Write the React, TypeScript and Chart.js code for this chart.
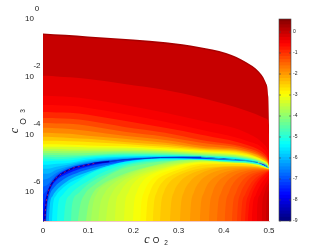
import React, { useEffect, useRef } from "react";
import { Chart, registerables } from "chart.js";

Chart.register(...registerables);

// x positions shared by the contours above the ridge
const upperX = [0, 0.01, 0.03, 0.06, 0.1, 0.18, 0.27, 0.35, 0.45, 0.49, 0.497, 0.5];
// contour level (log10 of the quantity) and its height, in decades below 1
const upperLevels = [-7.5, -7.2, -6.9, -6.6, -6.3, -6.0, -5.7, -5.4, -5.1, -4.8, -4.5, -4.2, -3.9, -3.6, -3.3, -3.0, -2.7, -2.4, -2.1, -1.8, -1.5, -1.2, -0.9, -0.6, -0.45, -0.3, -0.11];
const upperDecades = [
  [6.75, 6.12, 5.5, 5.21, 5.05, 4.88, 4.81, 4.79, 4.9, 5.03, 5.09, 5.17],
  [6.4, 6.06, 5.48, 5.19, 5.03, 4.87, 4.81, 4.79, 4.9, 5.03, 5.09, 5.17],
  [6.09, 5.92, 5.45, 5.17, 5.02, 4.87, 4.81, 4.79, 4.9, 5.03, 5.09, 5.17],
  [5.81, 5.74, 5.4, 5.16, 5.0, 4.86, 4.81, 4.79, 4.9, 5.03, 5.09, 5.17],
  [5.57, 5.54, 5.33, 5.12, 4.98, 4.84, 4.8, 4.79, 4.9, 5.03, 5.09, 5.17],
  [5.36, 5.36, 5.22, 5.09, 4.95, 4.83, 4.79, 4.79, 4.9, 5.03, 5.09, 5.17],
  [5.19, 5.19, 5.12, 5.03, 4.91, 4.81, 4.77, 4.78, 4.9, 5.03, 5.09, 5.17],
  [5.05, 5.05, 5.02, 4.98, 4.86, 4.77, 4.76, 4.78, 4.89, 5.03, 5.09, 5.17],
  [4.93, 4.93, 4.91, 4.9, 4.81, 4.76, 4.74, 4.77, 4.88, 5.03, 5.09, 5.17],
  [4.84, 4.84, 4.86, 4.83, 4.77, 4.72, 4.72, 4.76, 4.86, 5.02, 5.08, 5.16],
  [4.77, 4.77, 4.79, 4.77, 4.74, 4.69, 4.7, 4.74, 4.84, 5.02, 5.08, 5.16],
  [4.71, 4.71, 4.71, 4.72, 4.71, 4.65, 4.67, 4.72, 4.83, 5.0, 5.07, 5.15],
  [4.64, 4.64, 4.64, 4.65, 4.64, 4.62, 4.64, 4.7, 4.81, 4.99, 5.06, 5.14],
  [4.57, 4.57, 4.57, 4.58, 4.58, 4.57, 4.6, 4.67, 4.79, 4.98, 5.05, 5.14],
  [4.5, 4.5, 4.5, 4.52, 4.52, 4.52, 4.57, 4.64, 4.77, 4.97, 5.05, 5.12],
  [4.43, 4.43, 4.43, 4.43, 4.45, 4.46, 4.53, 4.6, 4.74, 4.95, 5.03, 5.12],
  [4.34, 4.34, 4.34, 4.36, 4.38, 4.41, 4.48, 4.57, 4.71, 4.93, 5.02, 5.1],
  [4.22, 4.22, 4.22, 4.24, 4.26, 4.33, 4.43, 4.53, 4.67, 4.91, 5.0, 5.1],
  [4.08, 4.08, 4.1, 4.12, 4.15, 4.26, 4.36, 4.5, 4.64, 4.9, 4.98, 5.09],
  [3.94, 3.94, 3.96, 3.98, 4.05, 4.15, 4.29, 4.46, 4.6, 4.86, 4.97, 5.09],
  [3.77, 3.77, 3.79, 3.81, 3.88, 4.05, 4.19, 4.39, 4.57, 4.83, 4.95, 5.07],
  [3.6, 3.6, 3.62, 3.63, 3.7, 3.91, 4.08, 4.29, 4.52, 4.79, 4.91, 5.05],
  [3.43, 3.43, 3.44, 3.46, 3.53, 3.74, 3.94, 4.19, 4.46, 4.74, 4.88, 5.02],
  [3.22, 3.22, 3.24, 3.25, 3.32, 3.53, 3.77, 4.01, 4.36, 4.67, 4.81, 4.95],
  [2.98, 2.98, 2.99, 3.01, 3.08, 3.29, 3.56, 3.84, 4.22, 4.53, 4.71, 4.88],
  [2.66, 2.66, 2.68, 2.7, 2.77, 2.98, 3.25, 3.53, 3.94, 4.36, 4.53, 4.71],
  [1.97, 1.97, 1.99, 2.02, 2.08, 2.25, 2.46, 2.73, 3.18, 3.43, 3.49, 3.6],
];
// upper edge of the filled domain, with its thin dark rim
const edgeX = [0, 0.05, 0.1, 0.2, 0.272, 0.345, 0.405, 0.449, 0.478, 0.493, 0.4985, 0.5];
const rimLevel = 0.3;
const rimDecades = [0.55, 0.61, 0.66, 0.76, 0.87, 1.02, 1.23, 1.54, 1.89, 2.28, 2.8, 4.01];
const edgeDecades = [0.5, 0.55, 0.61, 0.71, 0.81, 0.97, 1.18, 1.49, 1.83, 2.21, 2.7, 3.67];

// the dark ridge
const ridgeX = [0.004, 0.006, 0.011, 0.018, 0.029, 0.044, 0.066, 0.088, 0.118, 0.147, 0.177, 0.22, 0.26, 0.35, 0.405, 0.447, 0.476, 0.49, 0.5];
const ridgeDecades = [7, 6.49, 6.03, 5.74, 5.51, 5.34, 5.17, 5.09, 4.99, 4.94, 4.88, 4.84, 4.8, 4.785, 4.855, 4.9, 4.97, 5.03, 5.17];

// contours below the ridge
const lowerLevels = [-6.9, -6.3, -5.7, -5.4, -5.1, -4.8, -4.5, -4.2, -3.9, -3.75, -3.6, -3.45, -3.3, -3.15, -3.0, -2.85, -2.7, -2.55, -2.4, -2.25, -2.1, -1.95, -1.8, -1.65, -1.5, -1.35, -1.2, -1.05, -0.9, -0.75, -0.6, -0.45, -0.3, -0.15, 0, 0.15];
const lowerX = [
  [0.004, 0.007, 0.012, 0.02, 0.031, 0.049, 0.082, 0.148, 0.259, 0.409, 0.476, 0.5],
  [0.007, 0.01, 0.015, 0.024, 0.038, 0.055, 0.093, 0.159, 0.259, 0.409, 0.476, 0.5],
  [0.013, 0.015, 0.022, 0.031, 0.046, 0.071, 0.115, 0.17, 0.259, 0.409, 0.476, 0.5],
  [0.02, 0.022, 0.029, 0.04, 0.06, 0.082, 0.126, 0.181, 0.259, 0.409, 0.476, 0.5],
  [0.031, 0.033, 0.042, 0.055, 0.077, 0.108, 0.148, 0.192, 0.259, 0.409, 0.476, 0.5],
  [0.046, 0.049, 0.06, 0.073, 0.1, 0.126, 0.17, 0.215, 0.27, 0.409, 0.476, 0.5],
  [0.062, 0.064, 0.077, 0.093, 0.119, 0.148, 0.188, 0.237, 0.281, 0.409, 0.476, 0.5],
  [0.077, 0.082, 0.093, 0.111, 0.137, 0.17, 0.215, 0.259, 0.303, 0.409, 0.476, 0.5],
  [0.095, 0.1, 0.111, 0.13, 0.159, 0.192, 0.237, 0.281, 0.325, 0.409, 0.476, 0.5],
  [0.106, 0.11, 0.12, 0.14, 0.17, 0.203, 0.248, 0.292, 0.336, 0.409, 0.476, 0.5],
  [0.122, 0.126, 0.137, 0.155, 0.181, 0.215, 0.259, 0.303, 0.347, 0.409, 0.476, 0.5],
  [0.139, 0.143, 0.153, 0.17, 0.195, 0.228, 0.27, 0.315, 0.36, 0.409, 0.476, 0.5],
  [0.159, 0.161, 0.17, 0.186, 0.21, 0.241, 0.281, 0.325, 0.369, 0.409, 0.476, 0.5],
  [0.179, 0.181, 0.189, 0.203, 0.226, 0.256, 0.292, 0.336, 0.409, 0.476, 0.5],
  [0.199, 0.201, 0.208, 0.221, 0.243, 0.27, 0.303, 0.347, 0.409, 0.476, 0.5],
  [0.215, 0.217, 0.224, 0.237, 0.257, 0.285, 0.32, 0.363, 0.417, 0.476, 0.5],
  [0.228, 0.23, 0.237, 0.25, 0.27, 0.299, 0.336, 0.38, 0.425, 0.476, 0.5],
  [0.243, 0.245, 0.252, 0.266, 0.287, 0.315, 0.35, 0.395, 0.436, 0.476, 0.5],
  [0.259, 0.261, 0.268, 0.281, 0.303, 0.33, 0.365, 0.409, 0.447, 0.476, 0.5],
  [0.281, 0.283, 0.29, 0.303, 0.323, 0.35, 0.383, 0.423, 0.46, 0.5],
  [0.303, 0.305, 0.312, 0.325, 0.343, 0.369, 0.4, 0.436, 0.476, 0.5],
  [0.325, 0.327, 0.334, 0.346, 0.364, 0.389, 0.418, 0.455, 0.48, 0.5],
  [0.347, 0.349, 0.356, 0.367, 0.385, 0.409, 0.436, 0.476, 0.5],
  [0.367, 0.369, 0.375, 0.386, 0.403, 0.425, 0.453, 0.48, 0.5],
  [0.385, 0.387, 0.394, 0.405, 0.42, 0.442, 0.469, 0.5],
  [0.402, 0.404, 0.411, 0.422, 0.437, 0.459, 0.48, 0.5],
  [0.418, 0.42, 0.427, 0.438, 0.453, 0.476, 0.5],
  [0.429, 0.431, 0.437, 0.448, 0.462, 0.482, 0.5],
  [0.438, 0.44, 0.447, 0.458, 0.471, 0.487, 0.5],
  [0.447, 0.449, 0.455, 0.465, 0.477, 0.491, 0.5],
  [0.453, 0.456, 0.462, 0.471, 0.482, 0.5],
  [0.462, 0.464, 0.471, 0.48, 0.489, 0.5],
  [0.473, 0.474, 0.48, 0.487, 0.5],
  [0.484, 0.485, 0.489, 0.493, 0.5],
  [0.493, 0.494, 0.496, 0.5],
  [0.498, 0.499, 0.5],
];
const lowerDecades = [
  [7, 6.47, 6.06, 5.78, 5.57, 5.4, 5.19, 4.96, 4.81, 4.88, 4.99, 5.17],
  [7, 6.47, 6.09, 5.85, 5.64, 5.47, 5.24, 5.0, 4.82, 4.89, 5.0, 5.17],
  [7, 6.47, 6.12, 5.92, 5.71, 5.47, 5.22, 5.02, 4.83, 4.9, 5.0, 5.18],
  [7, 6.47, 6.12, 5.92, 5.67, 5.5, 5.19, 4.95, 4.84, 4.9, 5.0, 5.18],
  [7, 6.47, 6.12, 5.88, 5.64, 5.33, 5.12, 4.97, 4.85, 4.91, 5.01, 5.18],
  [7, 6.47, 6.09, 5.88, 5.61, 5.36, 5.09, 4.95, 4.88, 4.92, 5.02, 5.19],
  [7, 6.47, 6.06, 5.81, 5.54, 5.33, 5.07, 4.95, 4.9, 4.94, 5.03, 5.19],
  [7, 6.47, 6.06, 5.78, 5.5, 5.22, 5.05, 4.95, 4.9, 4.95, 5.04, 5.19],
  [7, 6.47, 6.02, 5.74, 5.5, 5.29, 5.1, 4.95, 4.88, 4.96, 5.05, 5.19],
  [7, 6.47, 6.02, 5.72, 5.48, 5.27, 5.08, 4.95, 4.9, 4.97, 5.05, 5.19],
  [7, 6.47, 6.02, 5.71, 5.47, 5.24, 5.07, 4.97, 4.9, 4.98, 5.06, 5.19],
  [7, 6.47, 6.02, 5.69, 5.45, 5.25, 5.08, 4.97, 4.92, 4.98, 5.06, 5.2],
  [7, 6.47, 6.02, 5.67, 5.43, 5.26, 5.09, 4.98, 4.93, 4.99, 5.07, 5.2],
  [7, 6.47, 6.0, 5.64, 5.4, 5.24, 5.08, 4.97, 4.98, 5.07, 5.2],
  [7, 6.47, 5.99, 5.61, 5.36, 5.22, 5.07, 4.97, 4.98, 5.08, 5.2],
  [7, 6.47, 5.99, 5.61, 5.38, 5.22, 5.06, 5.0, 5.0, 5.08, 5.2],
  [7, 6.47, 5.99, 5.61, 5.4, 5.22, 5.05, 5.02, 5.02, 5.09, 5.2],
  [7, 6.47, 5.99, 5.62, 5.4, 5.23, 5.08, 5.03, 5.03, 5.1, 5.2],
  [7, 6.47, 5.99, 5.64, 5.4, 5.24, 5.14, 5.09, 5.09, 5.11, 5.21],
  [7, 6.47, 5.99, 5.64, 5.4, 5.23, 5.14, 5.1, 5.12, 5.21],
  [7, 6.47, 5.99, 5.64, 5.4, 5.22, 5.14, 5.12, 5.14, 5.21],
  [7, 6.47, 6.0, 5.65, 5.41, 5.25, 5.17, 5.15, 5.16, 5.21],
  [7, 6.47, 6.02, 5.67, 5.43, 5.28, 5.19, 5.17, 5.22],
  [7, 6.47, 6.02, 5.67, 5.44, 5.28, 5.21, 5.2, 5.22],
  [7, 6.47, 6.02, 5.67, 5.45, 5.29, 5.22, 5.22],
  [7, 6.47, 6.02, 5.67, 5.44, 5.29, 5.24, 5.23],
  [7, 6.47, 6.02, 5.67, 5.43, 5.29, 5.24],
  [7, 6.47, 6.05, 5.7, 5.46, 5.32, 5.25],
  [7, 6.47, 6.09, 5.74, 5.5, 5.35, 5.26],
  [7, 6.47, 6.09, 5.76, 5.52, 5.35, 5.28],
  [7, 6.47, 6.09, 5.78, 5.54, 5.29],
  [7, 6.47, 6.09, 5.78, 5.57, 5.36],
  [7, 6.47, 6.09, 5.85, 5.5],
  [7, 6.47, 6.09, 5.88, 5.67],
  [7, 6.47, 6.12, 5.92],
  [7, 6.54, 6.19],
];

const xTicks = [0, 0.1, 0.2, 0.3, 0.4, 0.5];
const yTickDecades = [0, 2, 4, 6];
const colorbarTicks = [0, -1, -2, -3, -4, -5, -6, -7, -8, -9];
const colorMin = -9;
const colorMax = 0.62;
const colorSteps = 64;

function jet(v: number): string {
  const raw = (v - colorMin) / (colorMax - colorMin);
  const f = (Math.min(colorSteps - 1, Math.max(0, Math.floor(raw * colorSteps))) + 0.5) / colorSteps;
  const c = (t: number) => Math.round(255 * Math.max(0, Math.min(1, t)));
  const r = c(Math.min(4 * f - 1.5, 4.5 - 4 * f));
  const g = c(Math.min(4 * f - 0.5, 3.5 - 4 * f));
  const b = c(Math.min(4 * f + 0.5, 2.5 - 4 * f));
  return `rgb(${r},${g},${b})`;
}

const pts = (xs: number[], ds: number[]) => xs.map((x, i) => ({ x, y: Math.pow(10, -ds[i]) }));

function area(xs: number[], ds: number[], color: string, fill: string) {
  return { data: pts(xs, ds), fill, backgroundColor: color, borderColor: color, borderWidth: 0, pointRadius: 0, cubicInterpolationMode: "monotone" };
}

function stroke(xs: number[], ds: number[], color: string, width: number, dash: number[] = []) {
  return { data: pts(xs, ds), fill: false, borderColor: color, borderWidth: width, borderDash: dash, pointRadius: 0, cubicInterpolationMode: "monotone" };
}

const paintOrder = [
  area([0, 0.5], [7, 7], jet(-8), "end"),
  ...upperLevels.map((v, i) => area(upperX, upperDecades[i], jet(v), "end")),
  area(edgeX, rimDecades, jet(rimLevel), "end"),
  area(edgeX, edgeDecades, "#ffffff", "end"),
  area(ridgeX, ridgeDecades, jet(-7.6), "start"),
  ...lowerLevels.map((v, i) => area(lowerX[i], lowerDecades[i], jet(v), "start")),
  stroke(ridgeX.slice(0, 10), ridgeDecades.slice(0, 10), "#0000b0", 1.5),
  stroke(ridgeX.slice(9, 14), ridgeDecades.slice(9, 14), "#0040c8", 1),
  stroke(ridgeX.slice(13, 17), ridgeDecades.slice(13, 17), "#18b0c0", 1),
  stroke(ridgeX.slice(16), ridgeDecades.slice(16), "#a0e060", 1),
  stroke(ridgeX.slice(0, 9), ridgeDecades.slice(0, 9), "#b0206a", 0.8, [2, 3]),
];

const axisLabels = {
  id: "axisLabels",
  afterDraw(chart: any) {
    const { ctx, scales } = chart;
    ctx.save();
    ctx.fillStyle = "#222";
    ctx.textAlign = "center";
    ctx.textBaseline = "middle";
    ctx.font = "8px 'Liberation Sans'";
    yTickDecades.forEach((d) => {
      const py = scales.y.getPixelForValue(Math.pow(10, -d));
      ctx.fillText(d === 0 ? "0" : `-${d}`, 37, py - 10.5);
    });
    const parts = [
      ["c", "italic 12px 'Liberation Serif'", 147, 239.5],
      ["O", "8.5px 'Liberation Sans'", 156, 241],
      ["2", "6.5px 'Liberation Sans'", 166, 243],
    ];
    parts.forEach(([t, f, x, y]) => {
      ctx.font = f;
      ctx.fillText(t, x, y);
    });
    const rotated = [
      ["c", "italic 12px 'Liberation Serif'", 15, 130.5],
      ["O", "8.5px 'Liberation Sans'", 23.5, 121.5],
      ["3", "6.5px 'Liberation Sans'", 23.5, 111],
    ];
    rotated.forEach(([t, f, x, y]) => {
      ctx.save();
      ctx.translate(x, y);
      ctx.rotate(-Math.PI / 2);
      ctx.font = f;
      ctx.fillText(t, 0, 0);
      ctx.restore();
    });
    ctx.restore();
  },
};

const colorbarFrame = {
  id: "colorbarFrame",
  afterDatasetsDraw(chart: any) {
    const { ctx, chartArea: a, scales } = chart;
    ctx.save();
    ctx.strokeStyle = "#444";
    ctx.lineWidth = 0.6;
    ctx.strokeRect(a.left, a.top, a.right - a.left, a.bottom - a.top);
    colorbarTicks.forEach((t) => {
      const py = scales.y.getPixelForValue(t);
      ctx.beginPath();
      ctx.moveTo(a.left, py);
      ctx.lineTo(a.left + 2, py);
      ctx.moveTo(a.right - 2, py);
      ctx.lineTo(a.right, py);
      ctx.stroke();
    });
    ctx.restore();
  },
};

export default function App() {
  const mainRef = useRef<HTMLCanvasElement>(null);
  const barRef = useRef<HTMLCanvasElement>(null);

  useEffect(() => {
    const main = new Chart(mainRef.current!, {
      type: "line",
      data: { datasets: [...paintOrder].reverse() as any },
      plugins: [axisLabels],
      options: {
        animation: false,
        responsive: false,
        layout: { padding: { top: 19, right: 63, left: 0, bottom: 0 } },
        plugins: { legend: { display: false }, tooltip: { enabled: false } },
        scales: {
          x: {
            type: "linear",
            min: 0,
            max: 0.5,
            afterFit: (s: any) => { s.height = 28; },
            afterBuildTicks: (s: any) => { s.ticks = xTicks.map((value) => ({ value })); },
            grid: { display: false, drawTicks: false },
            border: { color: "#f0c8c8", width: 1 },
            ticks: { padding: 5, maxRotation: 0, color: "#222", font: { family: "'Liberation Sans'", size: 8 }, callback: (v: any) => String(v) },
          },
          y: {
            type: "logarithmic",
            min: 1e-7,
            max: 1,
            afterFit: (s: any) => { s.width = 43; },
            afterBuildTicks: (s: any) => { s.ticks = yTickDecades.map((d) => ({ value: Math.pow(10, -d) })); },
            grid: { display: false, drawTicks: false },
            border: { color: "#777", width: 1 },
            ticks: { padding: 9, color: "#222", font: { family: "'Liberation Sans'", size: 8 }, callback: () => "10" },
          },
        },
      } as any,
    });

    const stepSize = (colorMax - colorMin) / colorSteps;
    const bands = Array.from({ length: colorSteps }, (_, i) => colorMin + i * stepSize);
    const bar = new Chart(barRef.current!, {
      type: "bar",
      data: {
        labels: ["scale"],
        datasets: bands.map((lo) => ({
          data: [[lo, lo + stepSize * 1.2]],
          backgroundColor: jet(lo + stepSize / 2),
          borderWidth: 0,
          grouped: false,
          barPercentage: 1,
          categoryPercentage: 1,
        })) as any,
      },
      plugins: [colorbarFrame],
      options: {
        animation: false,
        responsive: false,
        layout: { padding: { top: 19, left: 9, bottom: 28, right: 0 } },
        plugins: { legend: { display: false }, tooltip: { enabled: false } },
        scales: {
          x: { display: false },
          y: {
            position: "right",
            min: colorMin,
            max: colorMax,
            afterFit: (s: any) => { s.width = 41; },
            grid: { display: false, drawTicks: false },
            border: { display: false },
            ticks: { stepSize: 1, includeBounds: false, padding: 2, color: "#222", font: { family: "'Liberation Sans'", size: 5 }, callback: (v: any) => String(v) },
          },
        },
      } as any,
    });

    return () => {
      main.destroy();
      bar.destroy();
    };
  }, []);

  const blur = "blur(0.35px)";
  return (
    <div style={{ position: "fixed", left: 0, top: 0, width: 332, height: 249, background: "#fff" }}>
      <canvas ref={mainRef} width={332} height={249} style={{ position: "absolute", left: 0, top: 0, width: 332, height: 249, filter: blur }} />
      <canvas ref={barRef} width={62} height={249} style={{ position: "absolute", left: 270, top: 0, width: 62, height: 249, filter: blur }} />
    </div>
  );
}
